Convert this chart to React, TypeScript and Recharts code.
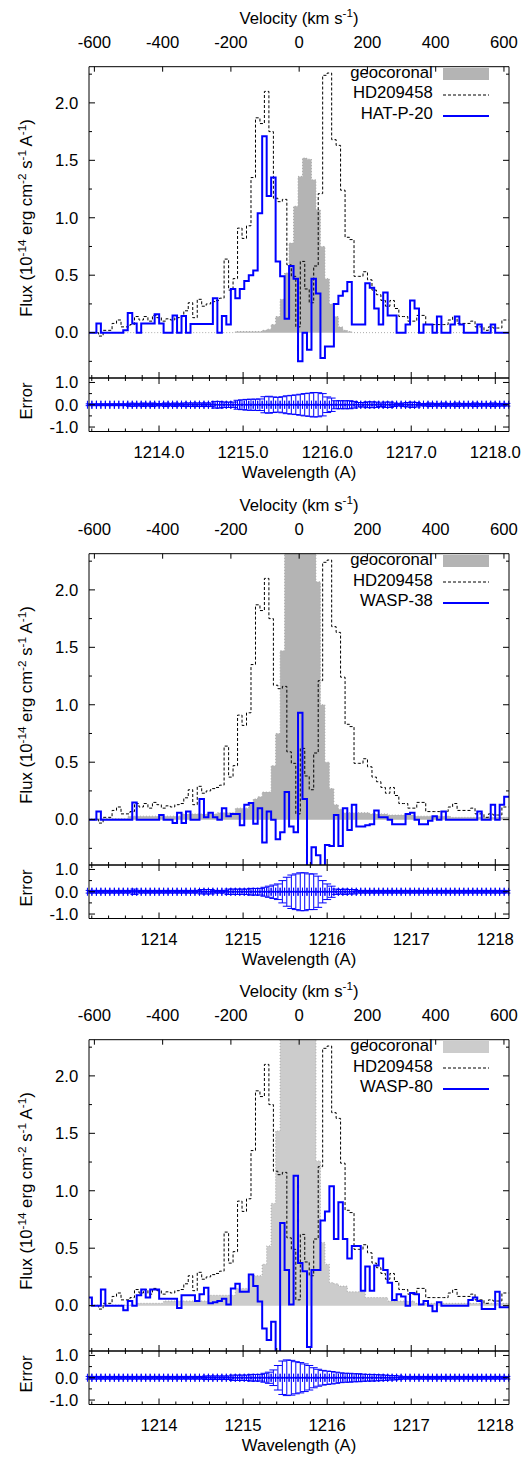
import React from 'react';
import { ComposedChart, Line, Area, Scatter, ErrorBar, XAxis, YAxis } from 'recharts';

const FONT = "'Liberation Sans', Arial, Helvetica, sans-serif";
const FS = 16.7;

// bin centres of the target spectra (Å), first and last are edge padding bins
const wavelength = [
  1213.122, 1213.175, 1213.228, 1213.282, 1213.335, 1213.388, 1213.442, 1213.495, 1213.548, 1213.601,
  1213.655, 1213.708, 1213.761, 1213.815, 1213.868, 1213.921, 1213.975, 1214.028, 1214.081, 1214.134,
  1214.188, 1214.241, 1214.294, 1214.348, 1214.401, 1214.454, 1214.508, 1214.561, 1214.614, 1214.667,
  1214.721, 1214.774, 1214.827, 1214.881, 1214.934, 1214.987, 1215.041, 1215.094, 1215.147, 1215.2,
  1215.254, 1215.307, 1215.36, 1215.414, 1215.467, 1215.52, 1215.574, 1215.627, 1215.68, 1215.733,
  1215.787, 1215.84, 1215.893, 1215.947, 1216.0, 1216.053, 1216.107, 1216.16, 1216.213, 1216.266,
  1216.32, 1216.373, 1216.426, 1216.48, 1216.533, 1216.586, 1216.64, 1216.693, 1216.746, 1216.799,
  1216.853, 1216.906, 1216.959, 1217.013, 1217.066, 1217.119, 1217.173, 1217.226, 1217.279, 1217.332,
  1217.386, 1217.439, 1217.492, 1217.546, 1217.599, 1217.652, 1217.706, 1217.759, 1217.812, 1217.865,
  1217.919, 1217.972, 1218.025, 1218.079, 1218.132, 1218.185,
];

// HD209458 comes on its own grid, offset by half a bin
const hdWavelength = [
  1213.148, 1213.202, 1213.255, 1213.308, 1213.362, 1213.415, 1213.468, 1213.521, 1213.575, 1213.628,
  1213.681, 1213.735, 1213.788, 1213.841, 1213.895, 1213.948, 1214.001, 1214.054, 1214.108, 1214.161,
  1214.214, 1214.268, 1214.321, 1214.374, 1214.428, 1214.481, 1214.534, 1214.588, 1214.641, 1214.694,
  1214.747, 1214.801, 1214.854, 1214.907, 1214.961, 1215.014, 1215.067, 1215.121, 1215.174, 1215.227,
  1215.28, 1215.334, 1215.387, 1215.44, 1215.494, 1215.547, 1215.6, 1215.654, 1215.707, 1215.76,
  1215.813, 1215.867, 1215.92, 1215.973, 1216.027, 1216.08, 1216.133, 1216.186, 1216.24, 1216.293,
  1216.346, 1216.4, 1216.453, 1216.506, 1216.56, 1216.613, 1216.666, 1216.72, 1216.773, 1216.826,
  1216.879, 1216.933, 1216.986, 1217.039, 1217.093, 1217.146, 1217.199, 1217.253, 1217.306, 1217.359,
  1217.412, 1217.466, 1217.519, 1217.572, 1217.626, 1217.679, 1217.732, 1217.786, 1217.839, 1217.892,
  1217.945, 1217.999, 1218.052, 1218.105, 1218.159,
];

const hd209458 = [
  0.0, 0.0, 0.0, -0.03, 0.02, 0.02, 0.08, 0.11, 0.05, 0.05,
  0.07, 0.14, 0.11, 0.14, 0.1, 0.15, 0.13, 0.1, 0.12, 0.11,
  0.13, 0.14, 0.19, 0.26, 0.13, 0.29, 0.23, 0.25, 0.27, 0.28,
  0.3, 0.64, 0.37, 0.47, 0.91, 0.82, 0.93, 1.35, 1.87, 1.82,
  2.1, 1.75, 1.17, 1.14, 1.16, 0.59, 0.49, 0.05, 0.62, 0.38,
  0.26, 0.58, 1.21, 2.24, 2.26, 1.68, 1.63, 1.24, 0.83, 0.81,
  0.49, 0.49, 0.53, 0.46, 0.37, 0.33, 0.28, 0.23, 0.28, 0.21,
  0.14, 0.14, 0.1, 0.1, 0.15, 0.15, 0.07, 0.07, 0.07, 0.07,
  0.07, 0.11, 0.14, 0.08, 0.08, 0.08, 0.1, 0.05, 0.05, 0.02,
  0.05, 0.04, 0.04, 0.11, 0.11,
];

const hatP20Flux = [
  0.0, 0.0, 0.08, 0.0, 0.0, 0.0, 0.0, 0.0, 0.02, 0.17,
  0.08, 0.0, 0.08, 0.08, 0.08, 0.16, 0.08, 0.0, 0.0, 0.15,
  0.0, 0.145, 0.0, 0.075, 0.075, 0.075, 0.075, 0.075, 0.3, 0.0,
  0.145, 0.07, 0.38, 0.3, 0.38, 0.45, 0.5, 0.54, 1.04, 1.71,
  1.19, 1.35, 0.62, 0.49, 0.12, 0.58, 0.47, -0.25, 0.0, -0.15,
  0.47, 0.34, -0.22, -0.12, -0.12, 0.25, 0.32, 0.36, 0.44, 0.07,
  0.07, 0.07, 0.43, 0.39, 0.21, 0.07, 0.35, 0.15, 0.15, 0.0,
  0.0, 0.07, 0.28, 0.21, 0.0, 0.07, 0.07, 0.0, 0.14, 0.0,
  0.0, 0.07, 0.14, 0.07, 0.0, 0.0, 0.0, 0.07, 0.0, 0.0,
  0.07, 0.0, 0.0, 0.0,
];
const hatP20Geo = [
  0, 0, 0, 0, 0, 0, 0, 0, 0, 0,
  0, 0, 0, 0, 0, 0, 0, 0, 0, 0,
  0, 0, 0, 0, 0, 0, 0, 0, 0, 0,
  0, 0, 0, 0.01, 0.01, 0.01, 0.01, 0.01, 0.01, 0.02,
  0.03, 0.07, 0.14, 0.29, 0.52, 0.78, 1.1, 1.36, 1.52, 1.51,
  1.33, 1.07, 0.75, 0.47, 0.25, 0.14, 0.05, 0.02, 0.01, 0,
  0, 0, 0, 0, 0, 0, 0, 0, 0, 0,
  0, 0, 0, 0, 0, 0, 0, 0, 0, 0,
  0, 0, 0, 0, 0, 0, 0, 0, 0, 0,
  0, 0, 0, 0,
];
const hatP20Err = [
  0.04, 0.04, 0.04, 0.04, 0.04, 0.04, 0.04, 0.04, 0.04, 0.07,
  0.07, 0.05, 0.08, 0.05, 0.08, 0.05, 0.05, 0.08, 0.05, 0.08,
  0.05, 0.08, 0.08, 0.08, 0.08, 0.08, 0.08, 0.08, 0.15, 0.15,
  0.12, 0.12, 0.12, 0.2, 0.22, 0.24, 0.25, 0.25, 0.26, 0.36,
  0.38, 0.35, 0.33, 0.36, 0.4, 0.42, 0.44, 0.47, 0.5, 0.52,
  0.55, 0.54, 0.5, 0.35, 0.3, 0.18, 0.18, 0.18, 0.18, 0.15,
  0.1, 0.1, 0.13, 0.13, 0.12, 0.08, 0.12, 0.12, 0.08, 0.05,
  0.08, 0.1, 0.12, 0.1, 0.05, 0.06, 0.08, 0.06, 0.06, 0.08,
  0.06, 0.06, 0.08, 0.06, 0.06, 0.06, 0.08, 0.06, 0.06, 0.06,
  0.08, 0.06, 0.06, 0.06,
];

const wasp38Flux = [
  0, 0, 0.07, 0, 0, 0, 0, 0, 0, 0,
  0.15, 0, 0, 0, 0, 0, 0.04, 0, 0, -0.03,
  0.06, -0.03, 0.07, 0, 0, 0.18, 0.02, 0.06, 0.02, 0,
  0.1, 0.03, 0.05, 0.05, -0.05, 0.13, 0.145, -0.035, 0.1, -0.2,
  0.07, 0.0, -0.17, -0.11, 0.24, -0.06, -0.11, 0.93, 0.18, -0.5,
  -0.24, -0.31, -0.5, -0.22, -0.23, 0.04, -0.23, 0.1, -0.09, 0.13,
  -0.06, -0.06, -0.05, -0.04, 0.08, 0.02, 0.02, 0.0, -0.04, -0.04,
  -0.04, 0.05, 0.06, 0.0, -0.04, -0.04, -0.01, 0.03, 0.0, 0.07,
  0, 0, 0, 0, 0, 0, 0, 0.07, 0, 0,
  0.13, 0, 0.13, 0.2,
];
const wasp38Geo = [
  0.01, 0.01, 0.01, 0.01, 0.01, 0.01, 0.01, 0.01, 0.01, 0.03,
  0.03, 0.03, 0.03, 0.03, 0.03, 0.03, 0.03, 0.03, 0.03, 0.03,
  0.03, 0.05, 0.05, 0.05, 0.05, 0.05, 0.05, 0.05, 0.05, 0.06,
  0.06, 0.06, 0.06, 0.1, 0.1, 0.1, 0.15, 0.18, 0.2, 0.24,
  0.24, 0.47, 0.75, 1.47, 3, 3, 3, 3, 3, 3,
  3, 2.07, 1.0, 0.5, 0.27, 0.13, 0.09, 0.06, 0.06, 0.06,
  0.06, 0.06, 0.06, 0.05, 0.05, 0.05, 0.05, 0.04, 0.04, 0.04,
  0.04, 0.04, 0.04, 0.03, 0.03, 0.03, 0.03, 0.03, 0.03, 0.03,
  0.03, 0.02, 0.02, 0.02, 0.02, 0.02, 0.02, 0.02, 0.02, 0.02,
  0.02, 0.02, 0.02, 0.02,
];
const wasp38Err = [
  0.06, 0.06, 0.06, 0.06, 0.06, 0.06, 0.06, 0.06, 0.06, 0.06,
  0.12, 0.06, 0.06, 0.06, 0.06, 0.06, 0.06, 0.06, 0.06, 0.06,
  0.06, 0.06, 0.06, 0.06, 0.06, 0.1, 0.1, 0.1, 0.06, 0.06,
  0.06, 0.12, 0.12, 0.12, 0.12, 0.12, 0.15, 0.15, 0.15, 0.2,
  0.25, 0.3, 0.35, 0.5, 0.65, 0.75, 0.8, 0.85, 0.85, 0.8,
  0.8, 0.7, 0.5, 0.35, 0.25, 0.12, 0.1, 0.12, 0.1, 0.1,
  0.06, 0.06, 0.06, 0.06, 0.06, 0.06, 0.06, 0.06, 0.06, 0.06,
  0.06, 0.06, 0.06, 0.06, 0.06, 0.06, 0.06, 0.06, 0.06, 0.06,
  0.06, 0.06, 0.06, 0.06, 0.06, 0.06, 0.06, 0.06, 0.06, 0.06,
  0.06, 0.06, 0.06, 0.06,
];

const wasp80Flux = [
  0.07, 0.0, 0.0, 0.14, 0.0, 0.0, 0.0, 0.0, -0.04, 0.04,
  0.0, 0.09, 0.14, 0.07, 0.14, 0.14, 0.06, 0.06, 0.06, 0.06,
  -0.02, 0.09, 0.09, 0.09, 0.04, 0.1, 0.155, 0.02, 0.03, 0.04,
  0.06, 0.01, 0.15, 0.19, 0.12, 0.12, 0.27, 0.17, 0.035, -0.2,
  -0.3, -0.14, -0.6, 0.72, 0.31, 0.01, 1.13, 0.37, 0.3, -0.36,
  0.31, 0.31, 0.74, 0.82, 1.04, 0.58, 0.9, 0.58, 0.41, 0.52,
  0.52, 0.13, 0.34, 0.13, 0.35, 0.41, 0.31, 0.2, 0.05, 0.1,
  0.08, 0.0, 0.11, 0.1, 0.01, 0.04, 0.0, -0.05, 0.03, 0.0,
  0.0, 0.0, 0.0, 0.0, 0.0, 0.05, 0.07, 0.04, -0.03, -0.03,
  -0.03, 0.12, -0.015, -0.015,
];
const wasp80Geo = [
  0.005, 0.005, 0.005, 0.005, 0.005, 0.005, 0.005, 0.005, 0.005, 0.005,
  0.005, 0.02, 0.02, 0.02, 0.02, 0.02, 0.02, 0.04, 0.04, 0.04,
  0.04, 0.04, 0.04, 0.04, 0.04, 0.04, 0.04, 0.09, 0.09, 0.09,
  0.09, 0.09, 0.09, 0.15, 0.15, 0.15, 0.26, 0.26, 0.26, 0.36,
  0.52, 0.89, 1.52, 3, 3, 3, 3, 3, 3, 3,
  3, 1.26, 0.55, 0.36, 0.2, 0.19, 0.17, 0.17, 0.12, 0.12,
  0.12, 0.12, 0.07, 0.07, 0.07, 0.07, 0.07, 0.04, 0.04, 0.04,
  0.04, 0.04, 0.04, 0.02, 0.02, 0.02, 0.02, 0.02, 0.02, 0.02,
  0.02, 0.02, 0.02, 0.02, 0.02, 0.02, 0.02, 0.02, 0.02, 0.02,
  0.02, 0.02, 0.02, 0.02,
];
const wasp80Err = [
  0.06, 0.06, 0.06, 0.06, 0.06, 0.06, 0.06, 0.06, 0.06, 0.06,
  0.06, 0.06, 0.06, 0.06, 0.06, 0.06, 0.06, 0.06, 0.06, 0.06,
  0.06, 0.06, 0.06, 0.06, 0.06, 0.06, 0.08, 0.08, 0.08, 0.08,
  0.08, 0.08, 0.12, 0.12, 0.12, 0.12, 0.15, 0.15, 0.15, 0.2,
  0.25, 0.35, 0.55, 0.75, 0.8, 0.78, 0.72, 0.68, 0.62, 0.55,
  0.45, 0.38, 0.33, 0.3, 0.28, 0.25, 0.22, 0.2, 0.2, 0.18,
  0.18, 0.16, 0.15, 0.15, 0.14, 0.13, 0.12, 0.1, 0.1, 0.08,
  0.06, 0.06, 0.06, 0.06, 0.06, 0.06, 0.06, 0.06, 0.06, 0.06,
  0.06, 0.06, 0.06, 0.06, 0.06, 0.06, 0.06, 0.06, 0.06, 0.06,
  0.06, 0.06, 0.06, 0.06,
];

const velocityTicks = [-600, -400, -200, 0, 200, 400, 600];
const fluxTicks = [-0.25, 0, 0.25, 0.5, 0.75, 1, 1.25, 1.5, 1.75, 2, 2.25];
const fluxLabels = [0, 0.5, 1, 1.5, 2];
const errorTicks = [-1, -0.5, 0, 0.5, 1];
const errorLabels = [-1, 0, 1];
const lambdaLabels = [1214, 1215, 1216, 1217, 1218];
const lambdaTicks = [
  1213.2, 1213.4, 1213.6, 1213.8, 1214, 1214.2, 1214.4, 1214.6, 1214.8, 1215, 1215.2, 1215.4, 1215.6,
  1215.8, 1216, 1216.2, 1216.4, 1216.6, 1216.8, 1217, 1217.2, 1217.4, 1217.6, 1217.8, 1218,
];

const LAMBDA_DOMAIN: [number, number] = [1213.167, 1218.163];
const FLUX_DOMAIN: [number, number] = [-0.395, 2.315];
const ERROR_DOMAIN: [number, number] = [-1.2, 1.2];
const HALF_BIN = 0.0267;
// velocity scale of the top axis, expressed on the wavelength axis
const V0_LAMBDA = 1215.667;
const LAMBDA_PER_KMS = 0.00406;
const lambdaOfVelocity = (v: number) => V0_LAMBDA + v * LAMBDA_PER_KMS;
const velocityOfLambda = (l: number) => Math.round((l - V0_LAMBDA) / LAMBDA_PER_KMS);
const velocityTickLambdas = velocityTicks.map(lambdaOfVelocity);

const W = 531;
const L = 89;
const R = 509;
const T = 66.7;
const B = 378;
const MAIN_H = 380;
const ERR_TOP = 370;
const ERR_H = 117;
const ET = 8;
const EB = 61.5;
const BLUE = '#0000ff';

const edgePad = (a: number[]) => [a[0], ...a, a[a.length - 1]];
const isIn = (list: number[], v: number) => list.some((m) => Math.abs(m - v) < 1e-6);

type Side = 'left' | 'right' | 'top' | 'bottom';

// inward ticks (long on labelled values, short otherwise) plus optional label
const ticker = (side: Side, edge: number, labelled: number[], fmt?: (v: number) => string, majorLen = 6) =>
  (props: any) => {
    const { x, y, payload } = props;
    const v = payload.value as number;
    const major = isIn(labelled, v);
    const len = major ? majorLen : 3;
    let x1 = x, x2 = x, y1 = y, y2 = y;
    if (side === 'left') { x1 = edge; x2 = edge + len; }
    if (side === 'right') { x1 = edge; x2 = edge - len; }
    if (side === 'top') { y1 = edge; y2 = edge + len; }
    if (side === 'bottom') { y1 = edge; y2 = edge - len; }
    let label = null;
    if (fmt && major) {
      const common = { fontFamily: FONT, fontSize: FS, fill: '#000' };
      if (side === 'left') label = <text x={x} y={y} dy="0.35em" textAnchor="end" {...common}>{fmt(v)}</text>;
      if (side === 'top') label = <text x={x} y={y} textAnchor="middle" {...common}>{fmt(v)}</text>;
      if (side === 'bottom') label = <text x={x} y={y} dy="0.71em" textAnchor="middle" {...common}>{fmt(v)}</text>;
    }
    return (
      <g>
        <line x1={x1} y1={y1} x2={x2} y2={y2} stroke="#000" strokeWidth={1} />
        {label}
      </g>
    );
  };

const axisLine = { stroke: '#000', strokeWidth: 1 };
const sup = { fontSize: '0.7em', position: 'relative' as const, top: '-0.55em' };

const centred = (cx: number, top: number): React.CSSProperties => ({
  position: 'absolute', left: cx, top, transform: 'translateX(-50%)', whiteSpace: 'nowrap',
  fontSize: FS, lineHeight: 1,
});
const rotated = (cx: number, cy: number): React.CSSProperties => ({
  position: 'absolute', left: cx, top: cy, transform: 'translate(-50%, -50%) rotate(-90deg)',
  whiteSpace: 'nowrap', fontSize: FS, lineHeight: 1,
});

interface PanelProps {
  top: number;
  target: string;
  flux: number[];
  geo: number[];
  err: number[];
  geoColor: string;
  lambdaFmt: (v: number) => string;
}

const hdRows = hdWavelength.map((w, k) => ({ w, hd: hd209458[k] }));

const Swatch: React.FC<{ kind: string; color: string }> = ({ kind, color }) => (
  <svg width={47} height={14} style={{ position: 'absolute', left: 443, top: 0 }}>
    {kind === 'box' && <rect x={0} y={1} width={46} height={12} fill={color} />}
    {kind === 'dash' && <line x1={0} x2={46} y1={7} y2={7} stroke="#000" strokeDasharray="3 2" />}
    {kind === 'line' && <line x1={0} x2={46} y1={7} y2={7} stroke={BLUE} strokeWidth={2} />}
  </svg>
);

const Panel: React.FC<PanelProps> = ({ top, target, flux, geo, err, geoColor, lambdaFmt }) => {
  const f = edgePad(flux);
  const g = edgePad(geo);
  const rows = wavelength.map((w, i) => ({ w, flux: f[i], geo: g[i] }));
  const errRows = err.map((e, i) => ({ w: wavelength[i + 1], y: 0, err: e, half: HALF_BIN }));
  const legend = [
    { label: 'geocoronal', kind: 'box' },
    { label: 'HD209458', kind: 'dash' },
    { label: target, kind: 'line' },
  ];

  return (
    <div style={{ position: 'absolute', left: 0, top, width: W, height: 487 }}>
      <div style={{ position: 'absolute', left: 0, top: 0 }}>
        <ComposedChart
          width={W}
          height={MAIN_H}
          data={rows}
          margin={{ top: T - 40, right: W - R - 1, bottom: MAIN_H - B - 1, left: L - 60 }}
        >
          <XAxis xAxisId="w" dataKey="w" type="number" domain={LAMBDA_DOMAIN} allowDataOverflow
            ticks={lambdaTicks} interval={0} height={1} tickLine={false} axisLine={axisLine}
            tick={ticker('bottom', B, lambdaLabels)} />
          <XAxis xAxisId="wt" dataKey="w" orientation="top" type="number" domain={LAMBDA_DOMAIN} allowDataOverflow
            ticks={velocityTickLambdas} interval={0} height={40} tickLine={false} tickSize={0} tickMargin={18.4}
            axisLine={axisLine}
            tick={ticker('top', T, velocityTickLambdas, (l) => String(velocityOfLambda(l)), 5)} />
          <YAxis yAxisId="f" type="number" domain={FLUX_DOMAIN} allowDataOverflow ticks={fluxTicks}
            interval={0} width={60} tickLine={false} tickSize={0} tickMargin={10.7} axisLine={axisLine}
            tick={ticker('left', L, fluxLabels, (v) => v.toFixed(1))} />
          <YAxis yAxisId="fr" orientation="right" type="number" domain={FLUX_DOMAIN} allowDataOverflow
            ticks={fluxTicks} interval={0} width={1} tickLine={false} axisLine={axisLine}
            tick={ticker('right', R, fluxLabels)} />
          <Area xAxisId="w" yAxisId="f" dataKey="geo" type="step" fill={geoColor} fillOpacity={1}
            stroke="#a8a8a8" strokeWidth={1} strokeDasharray="1 2" isAnimationActive={false} />
          <Line xAxisId="wt" yAxisId="fr" data={hdRows} dataKey="hd" type="step" stroke="#000"
            strokeWidth={1} strokeDasharray="3 2" dot={false} activeDot={false} isAnimationActive={false} />
          <Line xAxisId="w" yAxisId="f" dataKey="flux" type="step" stroke={BLUE} strokeWidth={2}
            dot={false} activeDot={false} isAnimationActive={false} />
        </ComposedChart>
      </div>

      <div style={{ position: 'absolute', left: 0, top: ERR_TOP }}>
        <ComposedChart
          width={W}
          height={ERR_H}
          data={errRows}
          margin={{ top: ET - 1, right: W - R - 1, bottom: ERR_H - EB - 30, left: L - 60 }}
        >
          <XAxis xAxisId="e" dataKey="w" type="number" domain={LAMBDA_DOMAIN} allowDataOverflow
            ticks={lambdaTicks} interval={0} height={30} tickLine={false} tickSize={0} tickMargin={14.3}
            axisLine={axisLine} tick={ticker('bottom', EB, lambdaLabels, lambdaFmt)} />
          <XAxis xAxisId="et" dataKey="w" orientation="top" type="number" domain={LAMBDA_DOMAIN} allowDataOverflow
            ticks={lambdaTicks} interval={0} height={1} tickLine={false} axisLine={axisLine}
            tick={ticker('top', ET, lambdaLabels)} />
          <YAxis yAxisId="ey" type="number" domain={ERROR_DOMAIN} allowDataOverflow
            ticks={errorTicks} interval={0} width={60} tickLine={false} tickSize={0} tickMargin={10.7}
            axisLine={axisLine} tick={ticker('left', L, errorLabels, (v) => v.toFixed(1))} />
          <YAxis yAxisId="eyr" orientation="right" type="number" domain={ERROR_DOMAIN} allowDataOverflow
            ticks={errorTicks} interval={0} width={1} tickLine={false} axisLine={axisLine}
            tick={ticker('right', R, errorLabels)} />
          <Line xAxisId="et" yAxisId="eyr" dataKey="y" type="linear" stroke={BLUE} strokeWidth={1}
            dot={false} activeDot={false} isAnimationActive={false} />
          <Scatter xAxisId="e" yAxisId="ey" dataKey="y" fill={BLUE} isAnimationActive={false}
            shape={(p: any) => <circle cx={p.cx} cy={p.cy} r={1.2} fill={BLUE} />}>
            <ErrorBar dataKey="err" direction="y" width={4} stroke={BLUE} strokeWidth={1} isAnimationActive={false} />
            <ErrorBar dataKey="half" direction="x" width={4} stroke={BLUE} strokeWidth={1} isAnimationActive={false} />
          </Scatter>
        </ComposedChart>
      </div>

      <div style={centred(299, 10.5)}>Velocity (km s<span style={sup}>-1</span>)</div>
      <div style={centred(299, 465)}>Wavelength (A)</div>
      <div style={rotated(27, 218)}>
        Flux (10<span style={sup}>-14</span> erg cm<span style={sup}>-2</span> s<span style={sup}>-1</span> A<span style={sup}>-1</span>)
      </div>
      <div style={rotated(27, 401)}>Error</div>

      {legend.map((item, i) => {
        const cy = T + 7.5 + 20.7 * i;
        return (
          <div key={item.label} style={{ position: 'absolute', left: 0, top: cy - 7, width: W, height: 14 }}>
            <div style={{ position: 'absolute', right: W - 432.7, top: -2.5, fontSize: FS, lineHeight: 1, whiteSpace: 'nowrap' }}>
              {item.label}
            </div>
            <Swatch kind={item.kind} color={geoColor} />
          </div>
        );
      })}
    </div>
  );
};

export default function App() {
  const oneDecimal = (v: number) => v.toFixed(1);
  const integer = (v: number) => String(v);
  return (
    <div style={{ position: 'relative', width: W, height: 1461, fontFamily: FONT, color: '#000', background: '#fff' }}>
      <style>{'body{margin:0}'}</style>
      <Panel top={0} target="HAT-P-20" flux={hatP20Flux} geo={hatP20Geo} err={hatP20Err}
        geoColor="#b4b4b4" lambdaFmt={oneDecimal} />
      <Panel top={487.3} target="WASP-38" flux={wasp38Flux} geo={wasp38Geo} err={wasp38Err}
        geoColor="#b4b4b4" lambdaFmt={integer} />
      <Panel top={973.3} target="WASP-80" flux={wasp80Flux} geo={wasp80Geo} err={wasp80Err}
        geoColor="#cccccc" lambdaFmt={integer} />
    </div>
  );
}
